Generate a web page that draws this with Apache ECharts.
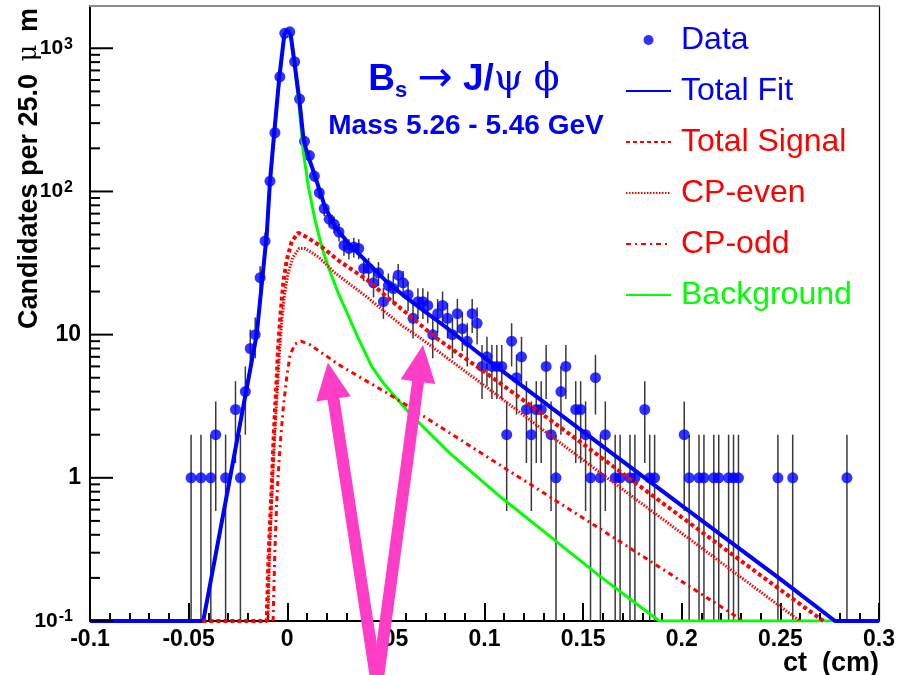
<!DOCTYPE html>
<html><head><meta charset="utf-8">
<script src="https://cdn.jsdelivr.net/npm/echarts@6/dist/echarts.min.js"></script>
<style>html,body{margin:0;padding:0;background:#fff}#c{width:910px;height:675px}</style>
</head><body><div id="c"></div>
<script>
// ---------- data ----------
// histogram bin centres (cm) and candidate counts (25 um bins, empty bins omitted)
const binCenters = [
  -0.04875,-0.04375,-0.03875,-0.03625,-0.03125,-0.02625,-0.02375,-0.02125,-0.01875,-0.01625,-0.01375,-0.01125,-0.00875,-0.00625,-0.00375,-0.00125,
  0.00125,0.00375,0.00625,0.00875,0.01125,0.01375,0.01625,0.01875,0.02125,0.02375,0.02625,0.02875,0.03125,0.03375,0.03625,0.03875,0.04125,0.04375,0.04625,0.04875,
  0.05125,0.05375,0.05625,0.05875,0.06125,0.06375,0.06625,0.06875,0.07125,0.07375,0.07625,0.07875,0.08125,0.08375,0.08625,0.08875,0.09125,0.09375,0.09625,
  0.09875,0.10125,0.10375,0.10625,0.10875,0.11125,0.11375,0.11625,0.11875,0.12125,0.12375,0.12625,0.12875,0.13125,0.13375,0.13625,0.13875,0.14125,
  0.14625,0.14875,0.15125,0.15375,0.15625,0.15875,0.16125,
  0.16625,0.16875,0.17375,0.17625,0.18125,0.18375,0.18625,
  0.20125,0.20375,0.20875,0.21125,0.21625,0.21875,0.22375,0.22625,0.22875,
  0.24875,0.25625,0.28375
];
const counts = [
  1,1,1,2,1,3,1,4,8,10,25,45,118,257,632,1271,
  1303,805,442,224,178,128,98,76,64,59,52,42,40,41,40,29,29,23,27,17,
  22,21,26,23,19,13,17,17,16,10,14,16,13,10,14,11,9,14,12,
  6,7,6,6,6,2,9,5,7,3,2,3,3,6,2,1,4,6,
  3,3,2,1,5,1,2,
  1,1,1,1,3,1,1,
  2,1,1,1,1,1,1,1,1,
  1,1,1
];
// fit curves [ct, candidates]
const totalFit = [[-0.1,0.1],[-0.0426,0.1],[-0.029,1],[-0.0155,10],[-0.013,22],[-0.0104,50],[-0.00875,118],[-0.0066,257],[-0.004,632],[-0.0015,1240],[0.0002,1330],[0.0018,1230],[0.0036,805],[0.0061,440],[0.0083,228],[0.0103,180],[0.0124,150],[0.0158,108],[0.0191,78],[0.0242,57],[0.031,43.4],[0.0394,33.2],[0.0496,24],[0.0597,18.4],[0.0698,14.5],[0.08,11.4],[0.1,6.9],[0.15,2.1],[0.2,0.64],[0.25,0.196],[0.2777,0.1],[0.3,0.1]];
const totalSignal = [[-0.043,0.1],[-0.0104,0.1],[-0.0096,0.25],[-0.0087,0.5],[-0.0079,0.85],[-0.0071,1.65],[-0.0063,2.8],[-0.0054,4.8],[-0.0046,8.2],[-0.0034,14],[-0.002,23],[-0.0003,33],[0.0022,44.5],[0.0055,51.5],[0.0098,48],[0.0175,41],[0.0259,33],[0.0327,28.5],[0.0403,24.2],[0.0512,18],[0.0631,13.2],[0.0749,9.6],[0.1,5.5],[0.15,1.72],[0.2,0.53],[0.25,0.165],[0.2718,0.1]];
const cpEven = [[-0.0098,0.1],[-0.009,0.3],[-0.0078,0.75],[-0.0068,1.5],[-0.006,2.4],[-0.005,4.2],[-0.0041,7],[-0.003,11.5],[-0.0016,18],[0.0002,26],[0.0028,34.5],[0.006,40],[0.009,40],[0.0157,35],[0.0242,27],[0.0327,22],[0.0411,18],[0.0496,14.4],[0.058,11.6],[0.0673,9.5],[0.1,4.4],[0.15,1.33],[0.2,0.41],[0.25,0.126],[0.2599,0.1]];
const cpOdd = [[-0.0072,0.1],[-0.0063,0.3],[-0.0054,0.65],[-0.0045,1.1],[-0.0033,1.9],[-0.002,3.1],[-0.0003,5.0],[0.0014,7.2],[0.0039,8.6],[0.007,9.0],[0.0115,8.5],[0.0191,7.2],[0.0267,6.1],[0.0352,5.2],[0.0436,4.45],[0.0521,3.8],[0.085,1.95],[0.12,0.96],[0.1586,0.44],[0.2312,0.1]];
const background = [[-0.1,0.1],[-0.0426,0.1],[-0.029,1],[-0.0155,10],[-0.013,22],[-0.0104,49],[-0.00875,116],[-0.0066,250],[-0.004,615],[-0.0015,1205],[0.0002,1290],[0.0018,1190],[0.0036,765],[0.006,395],[0.0081,190],[0.0107,108],[0.0141,63],[0.0175,41],[0.0208,29.8],[0.0259,19.4],[0.031,13.5],[0.0359,9.5],[0.0428,6.0],[0.0487,4.6],[0.0622,2.8],[0.0825,1.48],[0.1079,0.74],[0.1332,0.39],[0.1586,0.205],[0.1886,0.1],[0.3,0.1]];
// axis ticks
const yMajorTicks = [0.1, 1, 10, 100, 1000];
const yMinorSteps = [2, 3, 4, 5, 6, 7, 8, 9];
// annotation arrows: tips and common tail, in data coordinates
const arrowTips = [[0.0206, 6.4], [0.0688, 8.46]];
const arrowTail = [0.0455, 0.0357];

// ---------- chart ----------
const FONT = "'Liberation Sans', Arial, Helvetica, sans-serif";
const BLUE = '#0000ff', RED = '#ff0000', GREEN = '#00ff00';
const X_MIN = -0.1, X_MAX = 0.3, Y_MIN = 0.1, Y_MAX = 1973;

const dataPoints = binCenters.map((x, i) => [x, counts[i]]);
const yTickData = [];
yMajorTicks.forEach(d => {
  yTickData.push([X_MIN, d, 1]);
  yMinorSteps.forEach(m => { if (d * m < Y_MAX) yTickData.push([X_MIN, d * m, 0]); });
});
const arrowData = arrowTips.map(t => [t[0], t[1], arrowTail[0], arrowTail[1]]);

function curve(name, data, color, width, type) {
  return { type: 'line', name, data, symbol: 'none', showSymbol: false, silent: true,
    lineStyle: { color, width, type }, itemStyle: { color }, emphasis: { disabled: true } };
}
const noSym = { color: 'rgba(0,0,0,0)', opacity: 0, borderWidth: 0 };

const chart = echarts.init(document.getElementById('c'), null, { renderer: 'canvas' });
chart.setOption({
  animation: false,
  backgroundColor: '#ffffff',
  title: [
    { text: '{b|B}{s|s} {ar|→} {b|J/}{g|ψ} {g|ϕ}', left: 464, top: 58, padding: 0, textAlign: 'center',
      textStyle: { fontSize: 37, fontWeight: 'bold', color: BLUE, fontFamily: FONT, lineHeight: 44,
        rich: {
          b: { fontSize: 37, fontWeight: 'bold', color: BLUE, fontFamily: FONT, lineHeight: 44 },
          s: { fontSize: 22, fontWeight: 'bold', color: BLUE, fontFamily: FONT, lineHeight: 22, verticalAlign: 'bottom' },
          ar: { fontSize: 42, fontWeight: 'normal', color: BLUE, fontFamily: "'DejaVu Sans'", lineHeight: 44 },
          g: { fontSize: 38, fontWeight: 'normal', color: BLUE, fontFamily: "'DejaVu Serif'", lineHeight: 44 }
        } } },
    { text: 'Mass 5.26 - 5.46 GeV', left: 466, top: 112, padding: 0, textAlign: 'center',
      textStyle: { fontSize: 28, fontWeight: 'bold', color: BLUE, fontFamily: FONT, lineHeight: 28 } }
  ],
  legend: {
    orient: 'vertical', left: 625, top: 24, padding: 0, itemWidth: 45, itemHeight: 10, itemGap: 19,
    selectedMode: false,
    textStyle: { fontSize: 32, fontFamily: FONT, lineHeight: 32, padding: [0, 0, 0, 5] },
    data: [
      { name: 'Data', textStyle: { color: BLUE } },
      { name: 'Total Fit', textStyle: { color: BLUE }, itemStyle: noSym },
      { name: 'Total Signal', textStyle: { color: RED }, itemStyle: noSym },
      { name: 'CP-even', textStyle: { color: RED }, itemStyle: noSym },
      { name: 'CP-odd', textStyle: { color: RED }, itemStyle: noSym },
      { name: 'Background', textStyle: { color: GREEN }, itemStyle: noSym }
    ]
  },
  grid: { left: 90, right: 31, top: 6, bottom: 54, containLabel: false, outerBoundsMode: 'none' },
  xAxis: [
    { type: 'value', min: X_MIN, max: X_MAX, interval: 0.05, position: 'bottom',
      axisLine: { show: true, onZero: false, lineStyle: { color: '#000', width: 2 } },
      axisTick: { show: true, inside: true, length: 18, lineStyle: { color: '#000', width: 2 } },
      minorTick: { show: true, splitNumber: 5, length: 8, lineStyle: { color: '#000', width: 2 } },
      splitLine: { show: false }, minorSplitLine: { show: false },
      axisLabel: { margin: 7, fontSize: 23, fontWeight: 'bold', color: '#000', fontFamily: FONT },
      name: 'ct  (cm)', nameLocation: 'end', nameGap: 0, nameMoveOverlap: false,
      nameTextStyle: { fontSize: 27, fontWeight: 'bold', color: '#000', fontFamily: FONT, lineHeight: 27,
        align: 'right', verticalAlign: 'top', padding: [29, 0, 0, 0] } },
    { type: 'value', min: 0, max: 1, position: 'top',
      axisLine: { show: true, onZero: false, lineStyle: { color: '#8a8a8a', width: 2 } },
      axisTick: { show: false }, axisLabel: { show: false }, splitLine: { show: false } }
  ],
  yAxis: [
    { type: 'log', logBase: 10, min: Y_MIN, max: Y_MAX, position: 'left',
      axisLine: { show: true, onZero: false, lineStyle: { color: '#000', width: 2 } },
      axisTick: { show: false }, minorTick: { show: false }, splitLine: { show: false },
      axisLabel: { margin: 9, color: '#000',
        formatter: v => {
          const l = Math.log10(v), e = Math.round(l);
          if (Math.abs(l - e) > 0.01) return '';
          if (e === 0) return '{n|1}';
          if (e === 1) return '{n|10}';
          return '{b|10}{p|' + (e < 0 ? '-' : '') + Math.abs(e) + '}';
        },
        rich: {
          n: { fontSize: 23, fontWeight: 'bold', fontFamily: FONT, color: '#000' },
          b: { fontSize: 21, fontWeight: 'bold', fontFamily: FONT, color: '#000', lineHeight: 24 },
          p: { fontSize: 16, fontWeight: 'bold', fontFamily: FONT, color: '#000', lineHeight: 16, verticalAlign: 'top', padding: [0, 8, 0, 1] }
        } },
      name: '{t|Candidates per 25.0 }{u|μ}{t| m}', nameLocation: 'end', nameGap: -2, nameRotate: 90, nameMoveOverlap: false,
      nameTextStyle: { align: 'right', verticalAlign: 'bottom', padding: [0, 0, 47, 0],
        fontSize: 27, fontWeight: 'bold', color: '#000', fontFamily: FONT, lineHeight: 27,
        rich: {
          t: { fontSize: 27, fontWeight: 'bold', color: '#000', fontFamily: FONT, lineHeight: 27 },
          u: { fontSize: 26, fontWeight: 'normal', color: '#000', fontFamily: "'DejaVu Serif'", lineHeight: 27, padding: [0, 5, 0, 5] }
        } } },
    { type: 'value', min: 0, max: 1, position: 'right',
      axisLine: { show: true, onZero: false, lineStyle: { color: '#000', width: 1.2 } },
      axisTick: { show: false }, axisLabel: { show: false }, splitLine: { show: false } }
  ],
  series: [
    { type: 'custom', name: 'errors', data: dataPoints, silent: true, clip: true,
      renderItem: (params, api) => {
        const x = api.value(0), y = api.value(1), e = Math.sqrt(y);
        const lo = Math.max(y - e, Y_MIN), hi = y + e;
        const p1 = api.coord([x, lo]), p2 = api.coord([x, hi]);
        return { type: 'line', shape: { x1: p1[0], y1: p1[1], x2: p2[0], y2: p2[1] },
          style: { stroke: '#3a3a3a', lineWidth: 1.5 } };
      } },
    { type: 'scatter', name: 'Data', data: dataPoints, symbol: 'circle', symbolSize: 11, silent: true,
      itemStyle: { color: BLUE }, emphasis: { disabled: true } },
    curve('Background', background, GREEN, 3, 'solid'),
    curve('Total Fit', totalFit, BLUE, 4, 'solid'),
    curve('Total Signal', totalSignal, RED, 4, [4, 3]),
    curve('CP-even', cpEven, RED, 3, [1.5, 1.5]),
    curve('CP-odd', cpOdd, RED, 3, [5, 4, 2, 4]),
    { type: 'custom', name: 'yticks', data: yTickData, silent: true, clip: false, z: 5,
      renderItem: (params, api) => {
        const p = api.coord([api.value(0), api.value(1)]);
        const len = api.value(2) ? 23 : 10;
        return { type: 'line', shape: { x1: p[0], y1: p[1], x2: p[0] + len, y2: p[1] },
          style: { stroke: '#000', lineWidth: 2 } };
      } },
    { type: 'custom', name: 'arrows', data: arrowData, silent: true, clip: false, z: 20,
      renderItem: (params, api) => {
        const tip = api.coord([api.value(0), api.value(1)]);
        const tail = api.coord([api.value(2), api.value(3)]);
        const dx = tip[0] - tail[0], dy = tip[1] - tail[1];
        const L = Math.hypot(dx, dy), ux = dx / L, uy = dy / L, nx = -uy, ny = ux;
        const headLen = 37, headW = 17.5, shaftW = 6;
        const bx = tip[0] - ux * headLen, by = tip[1] - uy * headLen;
        const pts = [
          [tail[0] + nx * shaftW, tail[1] + ny * shaftW],
          [bx + nx * shaftW, by + ny * shaftW],
          [bx + nx * headW, by + ny * headW],
          [tip[0], tip[1]],
          [bx - nx * headW, by - ny * headW],
          [bx - nx * shaftW, by - ny * shaftW],
          [tail[0] - nx * shaftW, tail[1] - ny * shaftW]
        ];
        return { type: 'polygon', shape: { points: pts }, style: { fill: '#ff3ec8' } };
      } }
  ]
});
</script>
</body></html>
